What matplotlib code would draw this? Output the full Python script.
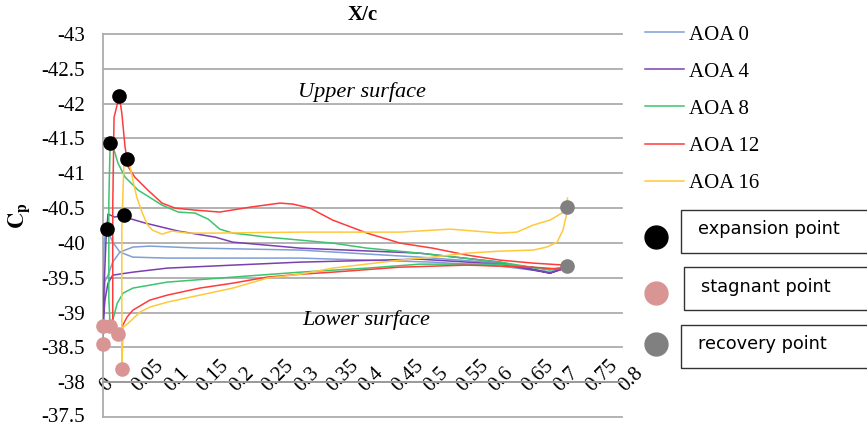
import matplotlib
matplotlib.use("Agg")
import matplotlib.pyplot as plt
from matplotlib.lines import Line2D
from matplotlib.patches import Rectangle
from matplotlib.ticker import FuncFormatter

plt.rcParams["font.family"] = ["Liberation Serif", "DejaVu Serif"]
plt.rcParams["mathtext.fontset"] = "stix"
plt.rcParams["axes.unicode_minus"] = False

# --- Cp(x/c) per angle of attack: upper surface TE->LE, leading edge, lower surface LE->TE
aoa0_x = [0.712, 0.689, 0.663, 0.612, 0.508, 0.407, 0.304, 0.200, 0.099, 0.046, 0.026, 0.015, 0.006,
          0.002, 0.0, 0.0,
          0.003, 0.0077, 0.015, 0.026, 0.046, 0.072, 0.149, 0.304, 0.488, 0.612, 0.689, 0.712]
aoa0_y = [-39.638, -39.580, -39.609, -39.667, -39.724, -39.753, -39.782, -39.782, -39.782, -39.796, -39.868, -40.011, -40.198,
          -40.04, -39.3, -38.546,
          -39.45, -39.537, -39.724, -39.868, -39.94, -39.954, -39.925, -39.897, -39.796, -39.710, -39.580, -39.638]

aoa4_x = [0.712, 0.689, 0.612, 0.488, 0.304, 0.200, 0.173, 0.116, 0.065, 0.039, 0.032, 0.018, 0.0077,
          0.0046, 0.0015, 0.0,
          0.003, 0.0077, 0.015, 0.046, 0.099, 0.200, 0.304, 0.488, 0.612, 0.689, 0.712]
aoa4_y = [-39.638, -39.566, -39.724, -39.853, -39.925, -40.011, -40.083, -40.170, -40.285, -40.356, -40.40, -40.371, -40.414,
          -40.04, -39.322, -38.805,
          -39.178, -39.422, -39.537, -39.580, -39.638, -39.681, -39.724, -39.767, -39.695, -39.566, -39.638]

aoa8_x = [0.712, 0.689, 0.612, 0.488, 0.407, 0.354, 0.304, 0.253, 0.227, 0.200, 0.180, 0.162, 0.142, 0.116,
          0.091, 0.054, 0.034, 0.023, 0.018, 0.011,
          0.009, 0.009, 0.011,
          0.015, 0.022, 0.031, 0.046, 0.099, 0.200, 0.304, 0.407, 0.488, 0.612, 0.689, 0.712]
aoa8_y = [-39.652, -39.609, -39.724, -39.853, -39.925, -39.997, -40.04, -40.083, -40.112, -40.141, -40.198, -40.342, -40.428, -40.443,
          -40.543, -40.759, -40.945, -41.147, -41.305, -41.434,
          -40.6, -39.2, -38.805,
          -38.891, -39.135, -39.279, -39.351, -39.437, -39.509, -39.580, -39.638, -39.695, -39.695, -39.624, -39.652]

aoa12_x = [0.712, 0.663, 0.612, 0.561, 0.508, 0.458, 0.407, 0.354, 0.319, 0.293, 0.273, 0.227, 0.180, 0.142,
           0.111, 0.091, 0.069, 0.049, 0.039, 0.034, 0.029, 0.025,
           0.017, 0.015, 0.015, 0.023,
           0.029, 0.037, 0.046, 0.072, 0.099, 0.149, 0.200, 0.253, 0.304, 0.354, 0.458, 0.561, 0.663, 0.704, 0.712]
aoa12_y = [-39.681, -39.710, -39.753, -39.825, -39.925, -39.997, -40.141, -40.328, -40.5, -40.557, -40.572, -40.514, -40.443, -40.471,
           -40.5, -40.572, -40.759, -40.945, -41.089, -41.376, -41.865, -42.11,
           -41.8, -40.5, -38.79, -38.69,
           -38.79, -38.934, -39.034, -39.178, -39.25, -39.351, -39.422, -39.509, -39.55, -39.580, -39.652, -39.681, -39.652, -39.624, -39.652]

aoa16_x = [0.716, 0.715, 0.689, 0.663, 0.638, 0.612, 0.535, 0.458, 0.304, 0.173, 0.131, 0.106, 0.091, 0.076,
           0.068, 0.060, 0.052, 0.046, 0.042, 0.037,
           0.032, 0.029, 0.029, 0.029,
           0.031, 0.039, 0.057, 0.072, 0.099, 0.149, 0.200, 0.253, 0.304, 0.354, 0.458, 0.508, 0.561, 0.612,
           0.663, 0.684, 0.700, 0.709, 0.715, 0.715]
aoa16_y = [-40.644, -40.471, -40.328, -40.256, -40.155, -40.141, -40.198, -40.155, -40.155, -40.141, -40.141, -40.170, -40.126, -40.184,
           -40.270, -40.443, -40.658, -40.902, -41.089, -41.204,
           -41.089, -40.184, -38.747, -38.187,
           -38.79, -38.848, -39.006, -39.078, -39.149, -39.25, -39.351, -39.494, -39.55, -39.638, -39.753, -39.796, -39.853, -39.882,
           -39.897, -39.94, -40.011, -40.184, -40.428, -40.5]

aoa_labels = ["AOA 0", "AOA 4", "AOA 8", "AOA 12", "AOA 16"]
aoa_colors = ["#7F9FD5", "#7A3FB0", "#3CC46E", "#FF3B3B", "#FFC93C"]

# characteristic points
expansion_x = [0.025, 0.011, 0.037, 0.032, 0.006]
expansion_y = [-42.11, -41.434, -41.204, -40.40, -40.198]
stagnant_x = [0.0, 0.011, 0.023, 0.0, 0.029]
stagnant_y = [-38.805, -38.805, -38.69, -38.546, -38.187]
recovery_x = [0.715, 0.715]
recovery_y = [-40.514, -39.667]

x_ticks = [i * 0.05 for i in range(17)]
y_ticks = [-43 + i * 0.5 for i in range(12)]

W, H = 867, 425
fig = plt.figure(figsize=(W / 100, H / 100), dpi=100)
ax = fig.add_axes([103 / W, 1 - 417 / H, 519 / W, 383 / H])

series = [(aoa0_x, aoa0_y), (aoa4_x, aoa4_y), (aoa8_x, aoa8_y), (aoa12_x, aoa12_y), (aoa16_x, aoa16_y)]
handles = []
for (xs, ys), lab, c in zip(series, aoa_labels, aoa_colors):
    ln, = ax.plot(xs, ys, color=c, lw=1.1, label=lab, zorder=3)
    handles.append(ln)

ax.plot(expansion_x, expansion_y, "o", color="black", ms=9.5, zorder=5, clip_on=False)
ax.plot(stagnant_x, stagnant_y, "o", color="#D99594", ms=9.5, zorder=5, clip_on=False)
ax.plot(recovery_x, recovery_y, "o", color="#808080", ms=9.5, zorder=5, clip_on=False)

ax.set_xlim(0, 0.8)
ax.set_ylim(-37.5, -43)
ax.set_xticks(x_ticks)
ax.set_yticks(y_ticks)
ax.xaxis.set_major_formatter(FuncFormatter(lambda v, _: f"{round(v, 2):g}"))
ax.yaxis.set_major_formatter(FuncFormatter(lambda v, _: f"{v:g}"))

grid_c = "#ADADAD"
ax.grid(axis="y", color=grid_c, lw=1.3, zorder=0)
for gl in ax.get_ygridlines():
    gl.set_clip_on(False)
for s in ("top", "right"):
    ax.spines[s].set_visible(False)
ax.spines["left"].set_color(grid_c)
ax.spines["left"].set_linewidth(1.3)
ax.spines["bottom"].set_position(("data", -38))
ax.spines["bottom"].set_color("#999999")
ax.spines["bottom"].set_linewidth(1.3)

ax.tick_params(axis="y", length=0, pad=13, labelsize=15)
ax.tick_params(axis="x", length=0, pad=5, labelsize=15)
for t in ax.get_xticklabels():
    t.set_rotation(45)
    t.set_rotation_mode("anchor")
    t.set_ha("left")
    t.set_va("center")
ax.get_yticklabels()[-1].set_va("center")

ax.set_title("X/c", fontweight="bold", fontsize=15, pad=10)
fig.text(19 / W, 1 - 216 / H, r"$\mathbf{C_p}$", rotation=90, fontsize=16, ha="center", va="center")

ax.text(0.399, -42.17, "Upper surface", style="italic", fontsize=16, ha="center", va="center")
ax.text(0.405, -38.89, "Lower surface", style="italic", fontsize=16, ha="center", va="center")

fig.legend(handles=handles, labels=aoa_labels, loc="upper left", bbox_to_anchor=(645 / W, 1 - 25 / H),
           frameon=False, fontsize=15, handlelength=1.85, handletextpad=0.25, labelspacing=0.84,
           borderpad=0, borderaxespad=0)

# legend for the marked points
point_keys = [("expansion point", "black", 237, 210, 681, 229),
              ("stagnant point", "#D99594", 293, 267, 684, 287),
              ("recovery point", "#808080", 344, 325, 681, 344)]
for text, col, cy, box_top, box_left, ty in point_keys:
    fig.add_artist(Line2D([656 / W], [1 - cy / H], marker="o", ms=16.5, color=col,
                          linestyle="none", transform=fig.transFigure))
    fig.add_artist(Rectangle((box_left / W, 1 - (box_top + 43) / H), 0.3, 43 / H, transform=fig.transFigure,
                             fill=False, ec="#333333", lw=1.0))
    fig.text((box_left + 17) / W, 1 - ty / H, text, family="DejaVu Sans", fontsize=12.8, va="center")

fig.savefig("out.png", dpi=100)
